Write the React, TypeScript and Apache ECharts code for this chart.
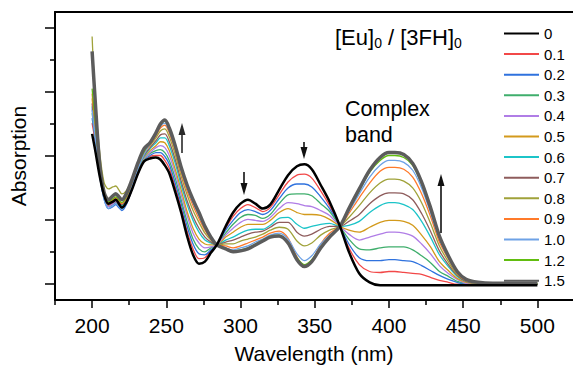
import React, { useEffect, useRef } from "react";
import * as echarts from "echarts";

// Wavelength (nm)
const wavelengths = [200,202,205,208,211,214,216,218,220,223,227,231,235,239,243,246,249,252,256,260,264,268,272,276,280,284,290,295,300,305,310,315,320,326,332,338,343,348,354,360,367,373,380,387,394,400,404,410,416,422,428,434,440,446,452,460,470,485,500];

// Absorption (arbitrary units) for each [Eu]0/[3FH]0 ratio
const a00 = [152,136,110,90,81,83,85,81,77,82,96,112,124,127,128,126,120,112,93,72,48,29,20,22,31,39,58,72,81,85,81,76,80,95,110,119,121,116,100,83,58,32,10,1,-2,-2,-2,-2,-2,-2,-2,-2,-2,-2,-2,-2,-2,-2,-2];
const a01 = [163,145,112,88,79,81,83,80,76,81,96,112,124,129,130,130,125,117,98,77,53,35,25,26,33,39,56,68,76,80,77,73,77,90,103,110,111,107,94,79,58,36,19,12,11,12,12,11,10,9,6,3,1,-1,-1,-1,-1,-1,-1];
const a02 = [168,148,110,86,76,78,80,77,74,80,96,112,125,130,133,133,129,121,102,81,58,40,30,29,34,39,54,64,72,75,73,70,74,86,97,101,101,98,88,76,58,40,26,23,23,24,24,23,22,18,13,8,4,1,-1,-1,-1,-1,-1];
const a03 = [173,150,113,88,78,80,82,79,76,82,97,113,126,132,135,136,133,125,107,85,63,45,35,32,36,39,51,60,67,70,69,66,70,81,90,91,91,89,81,73,58,45,35,34,36,37,37,37,34,28,21,12,7,2,0,-1,-1,-1,-1];
const a04 = [178,152,114,89,78,81,83,80,77,83,98,115,127,133,138,140,138,130,112,90,69,51,41,36,37,39,49,56,62,65,64,63,67,76,82,81,79,78,74,69,58,50,44,47,50,52,52,51,48,40,30,18,10,4,0,-1,-1,-1,-1];
const a05 = [188,158,118,92,80,83,85,82,79,85,100,116,128,135,140,144,143,135,116,95,73,56,45,40,39,39,47,52,57,60,60,60,64,72,76,72,70,70,69,65,58,54,52,57,62,64,64,63,59,49,37,22,13,5,1,0,-1,-1,-1];
const a06 = [180,154,115,90,81,83,85,82,79,85,100,117,129,137,143,148,148,140,122,100,80,64,52,44,41,39,44,47,51,54,55,55,59,66,67,60,56,58,60,61,58,59,63,72,79,82,82,80,75,63,47,29,17,7,2,0,-1,-1,-1];
const a07 = [183,156,117,91,81,84,86,83,80,86,101,118,130,138,145,151,152,144,126,104,84,68,56,47,42,39,42,44,47,50,52,53,57,62,62,52,48,50,55,58,58,63,70,81,89,92,92,91,85,71,53,33,19,8,2,0,0,-1,-1];
const a08 = [251,190,135,103,96,98,99,95,91,94,106,121,133,140,148,155,157,149,131,109,90,74,62,51,44,39,40,40,43,45,47,50,54,57,55,43,38,41,49,54,58,67,79,92,102,106,106,104,97,82,61,38,22,9,3,0,0,0,-1];
const a09 = [193,160,118,92,82,85,87,84,81,87,102,119,132,141,150,158,161,153,135,113,94,79,66,54,45,39,38,36,38,41,44,47,51,53,46,27,17,22,40,51,58,71,87,102,114,118,118,116,108,91,68,42,25,10,3,1,0,0,0];
const a10 = [176,150,112,86,76,79,81,78,75,82,99,117,131,142,151,160,163,155,137,115,97,82,69,56,46,39,36,34,36,38,42,45,49,51,45,30,23,28,40,49,58,73,91,108,120,125,125,123,115,97,72,45,26,11,4,1,0,0,0];
const a12 = [198,165,120,93,83,86,88,85,82,88,104,121,134,143,152,161,165,157,139,117,99,84,71,57,47,39,35,33,34,36,40,44,48,49,42,26,19,24,37,48,58,75,94,113,125,130,130,128,120,101,75,47,27,12,4,1,0,0,0];
const a15 = [236,188,123,93,85,89,91,88,85,91,106,123,137,143,153,162,166,158,140,118,100,85,72,58,47,39,35,32,33,35,39,43,47,48,41,24,17,22,36,47,58,76,96,115,128,133,133,131,122,103,77,48,28,12,4,1,0,0,0];

const ratioLabels = ["0","0.1","0.2","0.3","0.4","0.5","0.6","0.7","0.8","0.9","1.0","1.2","1.5"];
const seriesValues = [a00,a01,a02,a03,a04,a05,a06,a07,a08,a09,a10,a12,a15];
const colors = ["#000000","#f24848","#2f72de","#3fae6c","#b07de6","#d39a1c","#1cc4c8","#8e5c5c","#a0a23a","#ff7a2a","#6ea2e6","#62bd10","#5c5c5c"];
const widths = [2.5,1.3,1.3,1.3,1.3,1.3,1.3,1.3,1.3,1.3,1.3,1.3,3.5];

const xMajor = [200,250,300,350,400,450,500];
const xMinor = [175,225,275,325,375,425,475];
const yMajor = [0,65,130,195,260];
const yMinor = [32.5,97.5,162.5,227.5];

const FONT = "'Liberation Sans', Arial, sans-serif";

function arrow(x: number, yTail: number, yTip: number, color: string) {
  const dir = yTip < yTail ? 1 : -1; // 1 = up
  const headLen = 12;
  const headBase = yTip + dir * headLen;
  return {
    type: "group",
    children: [
      { type: "line", shape: { x1: x, y1: yTail, x2: x, y2: headBase }, style: { stroke: color, lineWidth: 1.6 } },
      { type: "polygon", shape: { points: [[x - 3.5, headBase], [x + 3.5, headBase], [x, yTip]] }, style: { fill: color } },
    ],
  };
}

export default function App() {
  const ref = useRef<HTMLDivElement>(null);
  useEffect(() => {
    const chart = echarts.init(ref.current!, null, { renderer: "svg" });
    const series = seriesValues.map((vals, i) => ({
      name: ratioLabels[i],
      type: "line",
      data: wavelengths.map((w, j) => [w, vals[j]]),
      showSymbol: false,
      symbol: "none",
      smooth: 0.3,
      lineStyle: { color: colors[i], width: widths[i] },
      itemStyle: { color: colors[i] },
      z: i === 0 ? 3 : 2,
      xAxisIndex: 0,
      yAxisIndex: 0,
    }));
    chart.setOption({
      animation: false,
      backgroundColor: "#ffffff",
      textStyle: { fontFamily: FONT },
      grid: { left: 55, right: 0, top: 12, bottom: 64, containLabel: false },
      xAxis: [
        {
          type: "value", min: 175, max: 524, position: "bottom",
          axisLine: { show: true, onZero: false, lineStyle: { color: "#000", width: 2 } },
          axisTick: { show: true, customValues: xMajor, length: 8, lineStyle: { color: "#000", width: 1.5 } },
          axisLabel: { show: true, customValues: xMajor, fontSize: 21, color: "#000", margin: 15, fontFamily: FONT },
          splitLine: { show: false },
          name: "Wavelength (nm)", nameLocation: "middle", nameGap: 43,
          nameTextStyle: { fontSize: 21, color: "#000", fontFamily: FONT },
        },
        {
          type: "value", min: 175, max: 524, position: "bottom",
          axisLine: { show: false, onZero: false },
          axisTick: { show: true, customValues: xMinor, length: 5, lineStyle: { color: "#000", width: 1.5 } },
          axisLabel: { show: false }, splitLine: { show: false },
        },
        {
          type: "value", min: 175, max: 524, position: "top",
          axisLine: { show: true, onZero: false, lineStyle: { color: "#000", width: 2 } },
          axisTick: { show: false }, axisLabel: { show: false }, splitLine: { show: false },
        },
      ],
      yAxis: [
        {
          type: "value", min: -17, max: 276, position: "left",
          axisLine: { show: true, onZero: false, lineStyle: { color: "#000", width: 2 } },
          axisTick: { show: true, customValues: yMajor, length: 10, lineStyle: { color: "#000", width: 1.5 } },
          axisLabel: { show: false }, splitLine: { show: false },
          name: "Absorption", nameLocation: "middle", nameGap: 26, nameRotate: 90,
          nameTextStyle: { fontSize: 21, color: "#000", fontFamily: FONT },
        },
        {
          type: "value", min: -17, max: 276, position: "left",
          axisLine: { show: false, onZero: false },
          axisTick: { show: true, customValues: yMinor, length: 5, lineStyle: { color: "#000", width: 1.5 } },
          axisLabel: { show: false }, splitLine: { show: false },
        },
      ],
      legend: {
        orient: "vertical", left: 503, top: 26, padding: 0,
        itemWidth: 35, itemHeight: 14, itemGap: 5.6,
        itemStyle: { opacity: 0 },
        textStyle: { fontSize: 15, color: "#000", fontFamily: FONT },
        data: ratioLabels,
      },
      graphic: [
        {
          type: "text", left: 335, top: 24,
          style: {
            text: "[Eu]{s|0} / [3FH]{s|0}",
            font: `22px ${FONT}`, fill: "#000", lineHeight: 26,
            rich: { s: { fontSize: 14, fontFamily: FONT, verticalAlign: "bottom", lineHeight: 14, fill: "#000" } },
          },
        },
        {
          type: "text", left: 345, top: 96,
          style: { text: "Complex\nband", font: `21.5px ${FONT}`, fill: "#000", lineHeight: 26 },
        },
        arrow(182, 153, 123, "#2a2a2a"),
        arrow(244, 172, 195, "#111"),
        arrow(304, 142, 159, "#111"),
        arrow(441, 233, 174, "#111"),
      ],
      series,
    });
    return () => chart.dispose();
  }, []);
  return <div ref={ref} style={{ position: "fixed", left: 0, top: 0, width: 573, height: 369 }} />;
}
